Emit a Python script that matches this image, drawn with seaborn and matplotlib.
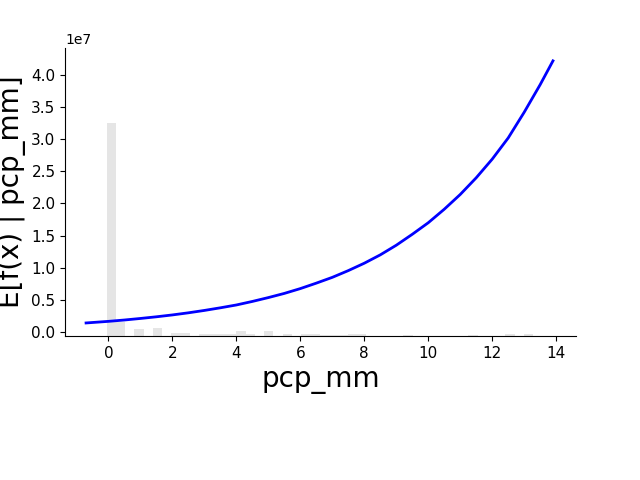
import numpy as np
import pandas as pd
import matplotlib
matplotlib.use("Agg")
import matplotlib.pyplot as plt
import seaborn as sns

# partial dependence curve (y in raw units)
pdp_x = [-0.7, 0, 0.5, 1, 1.5, 2, 2.5, 3, 3.5, 4, 4.5, 5, 5.5, 6, 6.5, 7, 7.5, 8,
         8.5, 9, 9.5, 10, 10.5, 11, 11.5, 12, 12.5, 13, 13.5, 13.9]
pdp_y = [1.40e6, 1.65e6, 1.86e6, 2.10e6, 2.36e6, 2.65e6, 2.98e6, 3.35e6, 3.76e6, 4.20e6,
         4.75e6, 5.35e6, 6.00e6, 6.75e6, 7.60e6, 8.50e6, 9.55e6, 1.07e7,
         1.20e7, 1.35e7, 1.52e7, 1.70e7, 1.91e7, 2.14e7, 2.40e7, 2.69e7, 3.02e7, 3.42e7, 3.85e7, 4.22e7]

# histogram of pcp_mm (counts per bin, 48 bins starting at -0.06, width 0.29)
bin_start = -0.06
bin_width = 0.29
hist_counts = [740, 49, 0, 24, 0, 28, 0, 10, 10, 0, 7, 7, 7, 7, 17, 7, 0, 17, 0, 7,
               0, 7, 7, 4, 4, 4, 7, 7, 0, 0, 0, 0, 4, 0, 0, 0, 0, 0, 0, 4,
               0, 0, 0, 7, 0, 7, 0, 0]

edges = bin_start + bin_width * np.arange(len(hist_counts) + 1)
hist_df = pd.DataFrame({"pcp_mm": (edges[:-1] + edges[1:]) / 2, "count": hist_counts})

fig = plt.figure(figsize=(6.4, 4.8), dpi=100)
ax1 = fig.add_axes([0.102, 0.3, 0.798, 0.6])
ax2 = ax1.twinx()

# histogram in the background
sns.histplot(data=hist_df, x="pcp_mm", weights="count", bins=list(edges), color="black",
             alpha=0.1, linewidth=0, ax=ax2)
ax2.set_ylim(0, sum(hist_counts))
ax2.set_yticks([])
ax2.set_ylabel("")
for s in ax2.spines.values():
    s.set_visible(False)

# partial dependence line
sns.lineplot(x=pdp_x, y=pdp_y, color="blue", linewidth=2, ax=ax1)
ax1.set_zorder(ax2.get_zorder() + 1)
ax1.patch.set_visible(False)

ax1.set_xlim(-1.35, 14.62)
ax1.set_ylim(-0.063e7, 4.42e7)
ax1.set_xlabel("pcp_mm", fontsize=20)
ax1.set_ylabel("E[f(x) | pcp_mm]", fontsize=20)
ax1.tick_params(labelsize=11)
ax1.yaxis.get_offset_text().set_fontsize(10)
ax1.spines["right"].set_visible(False)
ax1.spines["top"].set_visible(False)

plt.savefig("out.png", dpi=100)
